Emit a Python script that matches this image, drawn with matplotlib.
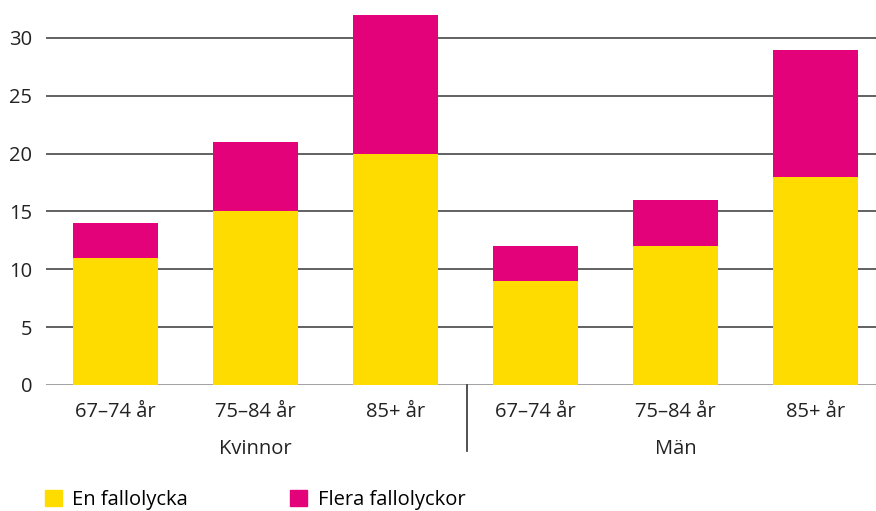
import matplotlib.pyplot as plt
from matplotlib.patches import Patch
from matplotlib.transforms import blended_transform_factory

plt.rcParams["font.family"] = ["Open Sans", "DejaVu Sans"]

# Data
age_labels = ["67–74 år", "75–84 år", "85+ år", "67–74 år", "75–84 år", "85+ år"]
groups = ["Kvinnor", "Män"]
one_fall = [11, 15, 20, 9, 12, 18]
several_falls = [3, 6, 12, 3, 4, 11]
series_names = ["En fallolycka", "Flera fallolyckor"]
yticks = [0, 5, 10, 15, 20, 25, 30]

YELLOW = "#FFDC00"
PINK = "#E3027A"
FS = 14.5

fig = plt.figure(figsize=(8.76, 5.11), dpi=100)
ax = fig.add_axes([0.0525, 0.2466, 0.9475, 0.7470])

x = list(range(len(age_labels)))
ax.bar(x, one_fall, width=0.607, color=YELLOW, zorder=2)
ax.bar(x, several_falls, bottom=one_fall, width=0.607, color=PINK, zorder=2)

ax.set_xlim(-0.497, 5.432)
ax.set_ylim(0, 33)
ax.set_yticks(yticks)
ax.set_yticklabels([str(v) for v in yticks])
for v in yticks:
    ax.axhline(v, color="#9a9a9a" if v == 0 else "#555555", lw=1.3, zorder=1)

ax.set_xticks(x)
ax.set_xticklabels(age_labels)
ax.tick_params(axis="x", length=0, pad=12, labelsize=FS, colors="#222222")
ax.tick_params(axis="y", length=0, pad=10, labelsize=FS, colors="#222222")
for s in ax.spines.values():
    s.set_visible(False)

trans = blended_transform_factory(ax.transData, ax.transAxes)
ax.text(1, -0.168, groups[0], transform=trans, ha="center", va="center",
        fontsize=FS, color="#222222")
ax.text(4, -0.168, groups[1], transform=trans, ha="center", va="center",
        fontsize=FS, color="#222222")
ax.plot([2.51, 2.51], [0, -0.173], transform=trans, color="#333333", lw=1.2,
        clip_on=False)

handles = [Patch(color=YELLOW), Patch(color=PINK)]
fig.legend(handles, series_names, loc="center left", bbox_to_anchor=(0.051, 0.022),
           ncol=2, frameon=False, fontsize=FS, handlelength=0.85, handleheight=0.85,
           handletextpad=0.5, columnspacing=5.1, borderaxespad=0, borderpad=0)

fig.savefig("out.png", dpi=100)
